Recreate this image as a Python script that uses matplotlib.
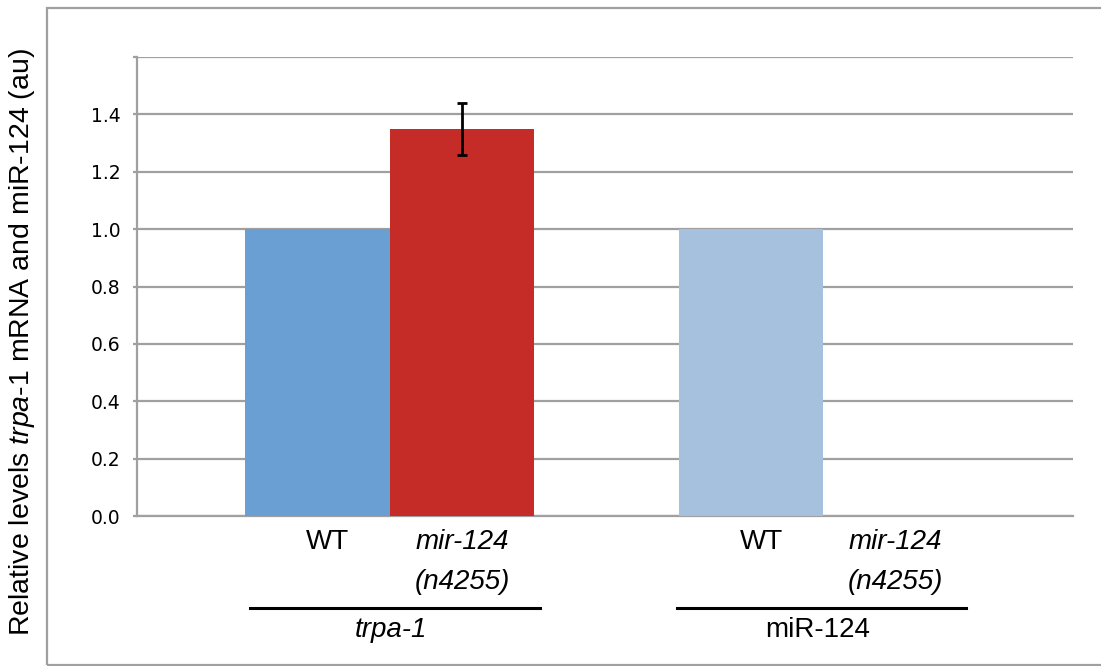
import matplotlib
matplotlib.use("Agg")
import matplotlib.pyplot as plt
from matplotlib import transforms
from matplotlib.patches import Rectangle

matplotlib.rcParams['font.family'] = ['Liberation Sans', 'DejaVu Sans']
matplotlib.rcParams['mathtext.fontset'] = 'custom'
matplotlib.rcParams['mathtext.rm'] = 'Liberation Sans'
matplotlib.rcParams['mathtext.it'] = 'Liberation Sans:italic'

# data
bar_pos = [0, 1, 3, 4]
values = [1.0, 1.35, 1.0, 0.0]
errors = [0, 0.09, 0, 0]
colors = ['#6a9fd4', '#c52b27', '#a6c1de', '#ffffff']
yticks = [0.0, 0.2, 0.4, 0.6, 0.8, 1.0, 1.2, 1.4, 1.6]
ytick_labels = ['0.0', '0.2', '0.4', '0.6', '0.8', '1.0', '1.2', '1.4', '']
groups = [('trpa-1', True), ('miR-124', False)]
group_span = [(-0.47, 1.54), (2.49, 4.49)]

GRAY = '#a0a0a0'

fig = plt.figure(figsize=(11.01, 6.66), dpi=100)
ax = fig.add_axes([137 / 1101, 150 / 666, 936 / 1101, 459 / 666])

# outer frame
fig.patches.append(Rectangle((47 / 1101, 1.5 / 666), 1.1, 657 / 666,
                             transform=fig.transFigure, fill=False,
                             edgecolor=GRAY, lw=1.6, clip_on=False))

ax.bar(bar_pos, values, width=1.0, color=colors, zorder=3)
ax.errorbar(bar_pos[1], values[1], yerr=errors[1], fmt='none', ecolor='black',
            elinewidth=2, capsize=3.5, capthick=2, zorder=4)

ax.set_xlim(-1.249, 5.228)
ax.set_ylim(0, 1.6)
ax.set_yticks(yticks)
ax.set_yticklabels(ytick_labels, family='DejaVu Sans', fontsize=13.5)
ax.set_xticks([])
ax.yaxis.grid(True, color=GRAY, lw=1.6, zorder=0)
ax.set_axisbelow(True)
for s in ['top', 'right']:
    ax.spines[s].set_visible(False)
for s in ['left', 'bottom']:
    ax.spines[s].set_color(GRAY)
    ax.spines[s].set_linewidth(1.6)
ax.tick_params(axis='y', length=3, width=1.6, color=GRAY, pad=9)

ax.set_ylabel(r'Relative levels $\mathit{trpa}$-$\mathit{1}$ mRNA and miR-124 (au)',
              fontsize=20.5)
ax.yaxis.set_label_coords(-0.107, 0.38)

# category labels
tr = transforms.blended_transform_factory(ax.transData, ax.transAxes)
fs = 20
for g, (x0, x1) in enumerate(group_span):
    base = 3 * g
    ax.text(base + 0.07, -0.057, 'WT', transform=tr, ha='center', va='center',
            fontsize=fs)
    ax.text(base + 1.0, -0.057, 'mir-124', transform=tr, ha='center',
            va='center', fontsize=fs, style='italic')
    ax.text(base + 1.0, -0.144, '(n4255)', transform=tr, ha='center',
            va='center', fontsize=fs, style='italic')
    ax.plot([x0, x1], [-0.2, -0.2], transform=tr, color='black', lw=2.2,
            clip_on=False)
    name, ital = groups[g]
    ax.text((x0 + x1) / 2 - 0.03, -0.248, name, transform=tr, ha='center',
            va='center', fontsize=fs, style='italic' if ital else 'normal')

fig.savefig('out.png', dpi=100)
